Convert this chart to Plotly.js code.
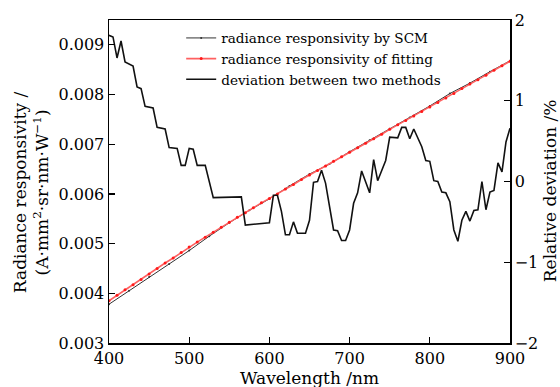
<!DOCTYPE html>
<html>
<head>
<meta charset="utf-8">
<script src="https://cdn.plot.ly/plotly-3.0.1.min.js"></script>
<style>html,body{margin:0;padding:0;background:#fff;}#chart{width:560px;height:387px;}</style>
</head>
<body>
<div id="chart"></div>
<script>
// Radiance responsivity by SCM (A·mm²·sr·nm·W⁻¹), x in nm
const scmWl = [400,425,450,475,500,525,550,575,600,625,650,675,700,725,750,775,800,825,850,875,900];
const scmVal = [0.00378,0.00405,0.00433,0.00459,0.00486,0.00515,0.00542,0.00567,0.00590,0.00616,0.00640,0.00660,0.00685,0.00708,0.00731,0.00754,0.00777,0.00802,0.00823,0.00846,0.00868];

// Radiance responsivity of fitting
const fitWl = [400,410,420,430,440,450,460,470,480,490,500,510,520,530,540,550,560,570,580,590,600,610,620,630,640,650,660,670,680,690,700,710,720,730,740,750,760,770,780,790,800,810,820,830,840,850,860,870,880,890,900];
const fitVal = [0.00385,0.00396,0.00407,0.00417,0.00428,0.00439,0.00450,0.00461,0.00471,0.00482,0.00493,0.00503,0.00513,0.00523,0.00533,0.00543,0.00553,0.00562,0.00572,0.00582,0.00591,0.00600,0.00610,0.00619,0.00629,0.00638,0.00647,0.00656,0.00666,0.00675,0.00684,0.00693,0.00702,0.00711,0.00720,0.00730,0.00739,0.00748,0.00757,0.00766,0.00775,0.00784,0.00793,0.00802,0.00812,0.00821,0.00830,0.00839,0.00849,0.00858,0.00867];

// Deviation between two methods (%)
const devWl = [400,405,410,415,420,430,435,440,445,455,460,470,475,485,490,495,500,505,510,520,530,565,570,600,605,610,615,620,625,630,635,645,650,655,660,665,670,675,680,685,690,695,700,705,710,715,725,730,735,745,750,760,765,770,775,780,790,795,800,805,810,815,820,825,830,835,840,845,850,855,860,865,870,875,880,885,890,895,900];
const devVal = [1.81,1.79,1.53,1.74,1.48,1.43,1.17,1.15,0.93,0.91,0.67,0.65,0.42,0.41,0.20,0.20,0.41,0.40,0.20,0.20,-0.20,-0.19,-0.54,-0.51,-0.17,-0.17,-0.37,-0.66,-0.66,-0.50,-0.64,-0.64,-0.48,-0.01,0.00,0.14,-0.02,-0.31,-0.60,-0.61,-0.73,-0.73,-0.60,-0.27,-0.14,0.13,-0.14,0.27,0.01,0.26,0.55,0.54,0.67,0.67,0.53,0.65,0.43,0.26,0.25,0.01,0.00,-0.13,-0.14,-0.25,-0.60,-0.74,-0.48,-0.37,-0.49,-0.36,-0.35,0.00,-0.35,-0.13,-0.11,0.23,0.12,0.49,0.66];

const xTicks = [400,500,600,700,800,900];
const yTicks = [0.003,0.004,0.005,0.006,0.007,0.008,0.009];
const y2Ticks = [-2,-1,0,1,2];

const FONT = 'DejaVu Serif, serif';

const traces = [
  {x: scmWl, y: scmVal, name: 'radiance responsivity by SCM', type: 'scatter', mode: 'lines+markers',
   line: {color: '#333333', width: 1}, marker: {size: 2, color: '#333333'}},
  {x: fitWl, y: fitVal, name: 'radiance responsivity of fitting', type: 'scatter', mode: 'lines+markers',
   line: {color: '#ff6060', width: 1.6}, marker: {size: 3, color: '#ff1a1a'}},
  {x: devWl, y: devVal, name: 'deviation between two methods', type: 'scatter', mode: 'lines',
   yaxis: 'y2', line: {color: '#111111', width: 1.6}}
];

const axisCommon = {
  showgrid: false, zeroline: false, showline: true, linecolor: '#000', linewidth: 1.5,
  ticks: 'inside', ticklen: 6, tickwidth: 1.2, tickcolor: '#000',
  tickfont: {family: FONT, size: 16, color: '#000'}
};

const layout = {
  width: 560, height: 387,
  margin: {l: 109, r: 50, t: 20, b: 44, pad: 0},
  paper_bgcolor: '#fff', plot_bgcolor: '#fff',
  showlegend: true,
  legend: {x: 0.18, y: 0.992, xanchor: 'left', yanchor: 'top', bgcolor: 'rgba(0,0,0,0)',
           font: {family: FONT, size: 13.6, color: '#000'}, tracegroupgap: 0},
  xaxis: Object.assign({}, axisCommon, {range: [400, 900], tickvals: xTicks, mirror: true}),
  yaxis: Object.assign({}, axisCommon, {range: [0.003, 0.0095], tickvals: yTicks, tickformat: '.3f'}),
  yaxis2: Object.assign({}, axisCommon, {range: [-2, 2], tickvals: y2Ticks, overlaying: 'y', side: 'right'}),
  annotations: [
    {text: 'Radiance responsivity /<br>(A·mm<sup>2</sup>·sr·nm·W<sup>−1</sup>)', xref: 'paper', yref: 'paper',
     x: 0, y: 0.467, xshift: -78, xanchor: 'center', yanchor: 'middle', textangle: -90, showarrow: false,
     font: {family: FONT, size: 17, color: '#000'}},
    {text: 'Relative deviation /%', xref: 'paper', yref: 'paper',
     x: 1, y: 0.47, xshift: 40, xanchor: 'center', yanchor: 'middle', textangle: -90, showarrow: false,
     font: {family: FONT, size: 17, color: '#000'}},
    {text: 'Wavelength /nm', xref: 'paper', yref: 'paper',
     x: 0.5, y: 0, yshift: -23, xanchor: 'center', yanchor: 'top', showarrow: false,
     font: {family: FONT, size: 17, color: '#000'}}
  ]
};

Plotly.newPlot('chart', traces, layout, {staticPlot: true, displayModeBar: false});
</script>
</body>
</html>
